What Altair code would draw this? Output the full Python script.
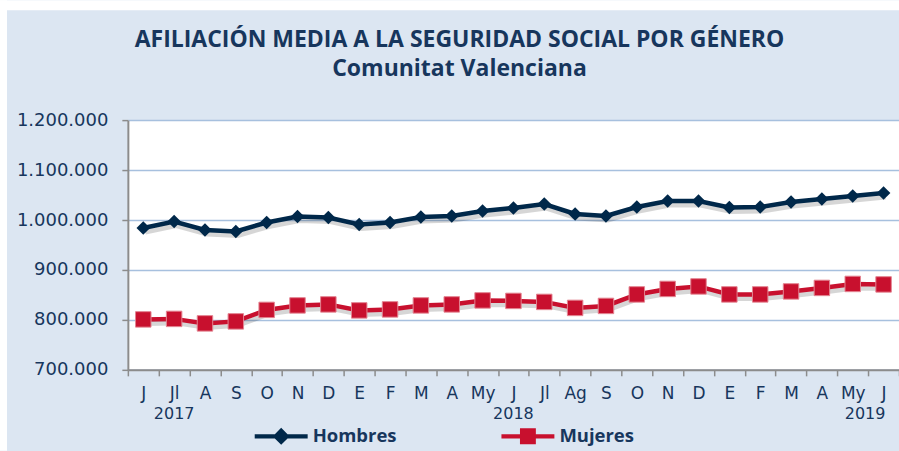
import altair as alt
import pandas as pd

months = ["J", "Jl", "A", "S", "O", "N", "D", "E", "F", "M", "A", "My",
          "J", "Jl", "Ag", "S", "O", "N", "D", "E", "F", "M", "A", "My", "J"]
hombres = [984000, 997000, 980000, 977000, 995000, 1007000, 1005000, 991000,
           995000, 1006000, 1008000, 1018000, 1024000, 1032000, 1012000, 1008000,
           1026000, 1038000, 1038000, 1025000, 1026000, 1036000, 1042000, 1048000, 1054000]
mujeres = [801000, 802000, 793000, 797000, 820000, 829000, 831000, 819000,
           821000, 829000, 831000, 839000, 838000, 836000, 824000, 828000,
           851000, 862000, 867000, 851000, 851000, 857000, 864000, 872000, 871000]
series = ["Hombres", "Mujeres"]
years = ["2017", "2018", "2019"]
year_pos = [1, 12, 23.4]
y_ticks = [700000, 800000, 900000, 1000000, 1100000, 1200000]

TXT = "#17365D"
C_H = "#00284A"
C_M = "#C8102E"
PANEL = "#DCE6F2"

rows = []
for i, m in enumerate(months):
    rows.append({"idx": i, "mes": m, "serie": series[0], "valor": hombres[i]})
    rows.append({"idx": i, "mes": m, "serie": series[1], "valor": mujeres[i]})
df = pd.DataFrame(rows)
df_years = pd.DataFrame({"pos": year_pos, "anio": years})
df_leg = pd.DataFrame({"serie": series})

month_js = "[" + ",".join("'" + m + "'" for m in months) + "]"
x_vals = [i * 0.5 - 0.5 for i in range(2 * len(months) + 1)]

x_enc = alt.X(
    "idx:Q",
    scale=alt.Scale(domain=[-0.5, len(months) - 0.5], nice=False, zero=False),
    axis=alt.Axis(
        values=x_vals, tickCount=200,
        labelExpr=f"datum.value % 1 == 0 ? {month_js}[datum.value] : ''",
        title=None, grid=False,
        domainColor="#8C8C8C", domainWidth=2,
        tickColor="#8C8C8C", tickWidth=1.5, tickSize=6,
        tickOpacity={"condition": {"test": "datum.value % 1 != 0", "value": 1}, "value": 0},
        labelOverlap=False, labelFlush=False,
        labelFont="DejaVu Sans", labelFontSize=17, labelColor=TXT,
        labelPadding=10,
    ),
)
y_enc = alt.Y(
    "valor:Q",
    scale=alt.Scale(domain=[700000, 1200000], nice=False, zero=False),
    axis=alt.Axis(
        values=y_ticks, tickCount=20,
        labelExpr="replace(replace(format(datum.value, ',.0f'), ',', '.'), ',', '.')",
        title=None, grid=True, gridColor="#A7C0DE", gridWidth=1.5,
        domainColor="#8C8C8C", domainWidth=2,
        tickColor="#8C8C8C", tickWidth=1.5, tickSize=6,
        labelFont="DejaVu Sans", labelFontSize=18, labelColor=TXT,
        labelPadding=14,
    ),
)

path_h = ("M-1,-0.08L-0.24,-0.08L0,-0.32L0.24,-0.08L1,-0.08L1,0.08"
          "L0.24,0.08L0,0.32L-0.24,0.08L-1,0.08Z")
path_m = ("M-1,-0.08L-0.3,-0.08L-0.3,-0.3L0.3,-0.3L0.3,-0.08L1,-0.08L1,0.08"
          "L0.3,0.08L0.3,0.3L-0.3,0.3L-0.3,0.08L-1,0.08Z")

legend = alt.Legend(
    title=None, orient="none", legendX=127, legendY=290, direction="horizontal",
    symbolSize=2809, symbolStrokeWidth=0, symbolOpacity=1, labelOffset=5, columnPadding=104,
    labelFont="Open Sans", labelFontSize=18.5, labelFontWeight="bold", labelColor=TXT,
    padding=0,
)
color_scale = alt.Scale(domain=series, range=[C_H, C_M])
color_enc = alt.Color("serie:N", scale=color_scale, legend=None)

base = alt.Chart(df)

shadow = base.mark_line(color="#000000", opacity=0.16, strokeWidth=5, xOffset=2, yOffset=4).encode(
    x=x_enc, y=y_enc, detail="serie:N"
)
lines = base.mark_line(strokeWidth=4.5).encode(x=x_enc, y=y_enc, color=color_enc)
pts_h = base.transform_filter(alt.datum.serie == series[0]).mark_point(
    shape="diamond", filled=True, size=185, opacity=1
).encode(x=x_enc, y=y_enc, color=color_enc)
pts_m = base.transform_filter(alt.datum.serie == series[1]).mark_point(
    shape="square", filled=True, size=240, opacity=1, stroke="#E38592", strokeWidth=1
).encode(x=x_enc, y=y_enc, color=color_enc)

data_layers = alt.layer(shadow, lines, pts_h, pts_m)

legend_layer = alt.Chart(df_leg).mark_point(filled=True, opacity=0, strokeWidth=0).encode(
    x=alt.value(0), y=alt.value(0),
    color=alt.Color("serie:N", scale=alt.Scale(domain=series, range=[C_H, C_M]), legend=legend),
    shape=alt.Shape("serie:N", scale=alt.Scale(domain=series, range=[path_h, path_m]), legend=legend),
)

year_text = alt.Chart(df_years).mark_text(
    font="DejaVu Sans", fontSize=16, color=TXT, baseline="middle", align="center"
).encode(x=alt.X("pos:Q"), y=alt.value(294), text="anio:N")

# white page margin around the light-blue chart panel (decoration only)
one = pd.DataFrame({"k": [0]})
strip_top = alt.Chart(one).mark_rect(color="white").encode(
    x=alt.value(-128), x2=alt.value(772), y=alt.value(-120), y2=alt.value(-110)
)
strip_left = alt.Chart(one).mark_rect(color="white").encode(
    x=alt.value(-128), x2=alt.value(-121), y=alt.value(-120), y2=alt.value(331)
)

chart = alt.layer(
    strip_top, strip_left, data_layers, year_text, legend_layer
).resolve_scale(color="independent", shape="independent").properties(
    width=772, height=250,
    title=alt.Title(
        text="AFILIACIÓN MEDIA A LA SEGURIDAD SOCIAL POR GÉNERO",
        subtitle="Comunitat Valenciana",
        font="Open Sans", fontSize=23, fontWeight="bold", color=TXT,
        subtitleFont="Open Sans", subtitleFontSize=23, subtitleFontWeight="bold",
        subtitleColor=TXT, subtitlePadding=6,
        anchor="middle", frame="group", dx=-54, offset=-81,
    ),
    autosize=alt.AutoSizeParams(type="none"),
    padding={"left": 128, "top": 120, "right": 0, "bottom": 81},
    background=PANEL,
).configure_view(fill="white", stroke=None)

chart.save("out.html", embed_options={"renderer": "svg", "actions": False})
